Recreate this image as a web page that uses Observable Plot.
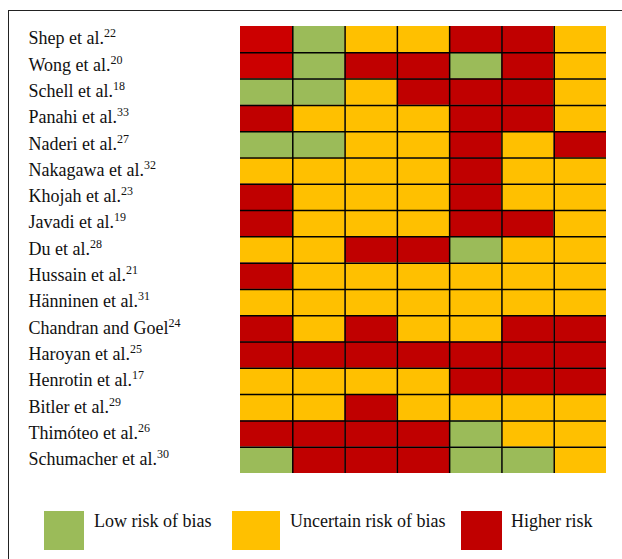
<!DOCTYPE html>
<html>
<head>
<meta charset="utf-8">
<script src="https://cdn.jsdelivr.net/npm/d3@7"></script>
<script src="https://cdn.jsdelivr.net/npm/@observablehq/plot@0.6"></script>
<style>
  html, body { margin: 0; padding: 0; background: #fff; }
  #wrap { position: relative; width: 622px; height: 559px; overflow: hidden; font-family: "Liberation Serif", "Times New Roman", serif; }
  #frame { position: absolute; left: 8px; top: 10px; width: 620px; height: 560px; border-left: 1.5px solid #222; border-top: 1.5px solid #222; }
  #chart { position: absolute; left: 0; top: 0; }
  .sw { position: absolute; top: 511px; height: 39px; }
  .lt { position: absolute; top: 509px; font-size: 18px; color: #111; line-height: 24px; white-space: nowrap; }
</style>
</head>
<body>
<div id="wrap">
  <div id="frame"></div>
  <div id="chart"></div>
  <div id="legend"></div>
</div>
<script>
// Studies (top to bottom) and reference numbers
const studies = ["Shep et al.", "Wong et al.", "Schell et al.", "Panahi et al.", "Naderi et al.", "Nakagawa et al.", "Khojah et al.", "Javadi et al.", "Du et al.", "Hussain et al.", "Hänninen et al.", "Chandran and Goel", "Haroyan et al.", "Henrotin et al.", "Bitler et al.", "Thimóteo et al.", "Schumacher et al."];
const refs = ["22", "20", "18", "33", "27", "32", "23", "19", "28", "21", "31", "24", "25", "17", "29", "26", "30"];

// Ratings per study across the 7 domains: L = low, U = uncertain, H = higher, Hb = higher (brighter shade)
const ratings = [
  ["Hb", "L", "U", "U", "H", "H", "U"],
  ["Hb", "L", "H", "H", "L", "H", "U"],
  ["L", "L", "U", "H", "H", "H", "U"],
  ["H", "U", "U", "U", "H", "H", "U"],
  ["L", "L", "U", "U", "H", "U", "H"],
  ["U", "U", "U", "U", "H", "U", "U"],
  ["H", "U", "U", "U", "H", "U", "U"],
  ["H", "U", "U", "U", "H", "H", "U"],
  ["U", "U", "H", "H", "L", "U", "U"],
  ["H", "U", "U", "U", "U", "U", "U"],
  ["U", "U", "U", "U", "U", "U", "U"],
  ["H", "U", "H", "U", "U", "H", "H"],
  ["H", "H", "H", "H", "H", "H", "H"],
  ["U", "U", "U", "U", "H", "H", "H"],
  ["U", "U", "H", "U", "U", "U", "U"],
  ["H", "H", "H", "H", "L", "U", "U"],
  ["L", "H", "H", "H", "L", "L", "U"]
];

const ratingKeys = ["L", "U", "H", "Hb"];
const ratingColors = ["#9BBB59", "#FFC000", "#C00000", "#CC0000"];
const legendLabels = ["Low risk of bias", "Uncertain risk of bias", "Higher risk"];

const nCols = ratings[0].length;
const nRows = studies.length;

const cells = [];
ratings.forEach((row, r) => row.forEach((v, c) => cells.push({row: r, col: c, v})));
const labels = studies.map((s, i) => ({row: i, name: s, ref: refs[i]}));
const colLines = d3.range(1, nCols);
const rowLines = d3.range(1, nRows);

const plot = Plot.plot({
  width: 622,
  height: 500,
  marginLeft: 240,
  marginRight: 16,
  marginTop: 26,
  marginBottom: 27,
  x: {domain: [0, nCols], axis: null},
  y: {domain: [0, nRows], reverse: true, axis: null},
  color: {domain: ratingKeys, range: ratingColors},
  style: {fontFamily: "'Liberation Serif', 'Times New Roman', serif", background: "transparent"},
  marks: [
    Plot.rect(cells, {x1: "col", x2: d => d.col + 1, y1: "row", y2: d => d.row + 1, fill: "v"}),
    Plot.ruleX(colLines, {x: d => d, y1: 0, y2: nRows, stroke: "#000", strokeWidth: 1.5}),
    Plot.ruleY(rowLines, {y: d => d, x1: 0, x2: nCols, stroke: "#000", strokeWidth: 1.5}),
    Plot.text(labels, {x: () => 0, y: d => d.row + 0.5, text: "name", dx: -212, dy: -1, textAnchor: "start", fontSize: 18, fill: "#111"})
  ]
});
document.getElementById("chart").appendChild(plot);

// add superscript reference numbers
const byName = new Map(labels.map(d => [d.name, d.ref]));
plot.querySelectorAll("text").forEach(t => {
  const name = t.textContent.trim();
  if (!byName.has(name)) return;
  const ts = document.createElementNS("http://www.w3.org/2000/svg", "tspan");
  ts.setAttribute("font-size", "12");
  ts.setAttribute("dy", "-7");
  ts.textContent = byName.get(name);
  t.appendChild(ts);
});

// legend
const legendPos = [{sx: 44, sw: 40, tx: 94}, {sx: 232, sw: 48, tx: 290}, {sx: 461, sw: 41, tx: 511}];
const legend = document.getElementById("legend");
legendLabels.forEach((lab, i) => {
  const sw = document.createElement("div");
  sw.className = "sw";
  sw.style.left = legendPos[i].sx + "px";
  sw.style.width = legendPos[i].sw + "px";
  sw.style.background = ratingColors[i];
  legend.appendChild(sw);
  const tx = document.createElement("div");
  tx.className = "lt";
  tx.style.left = legendPos[i].tx + "px";
  tx.textContent = lab;
  legend.appendChild(tx);
});
</script>
</body>
</html>
